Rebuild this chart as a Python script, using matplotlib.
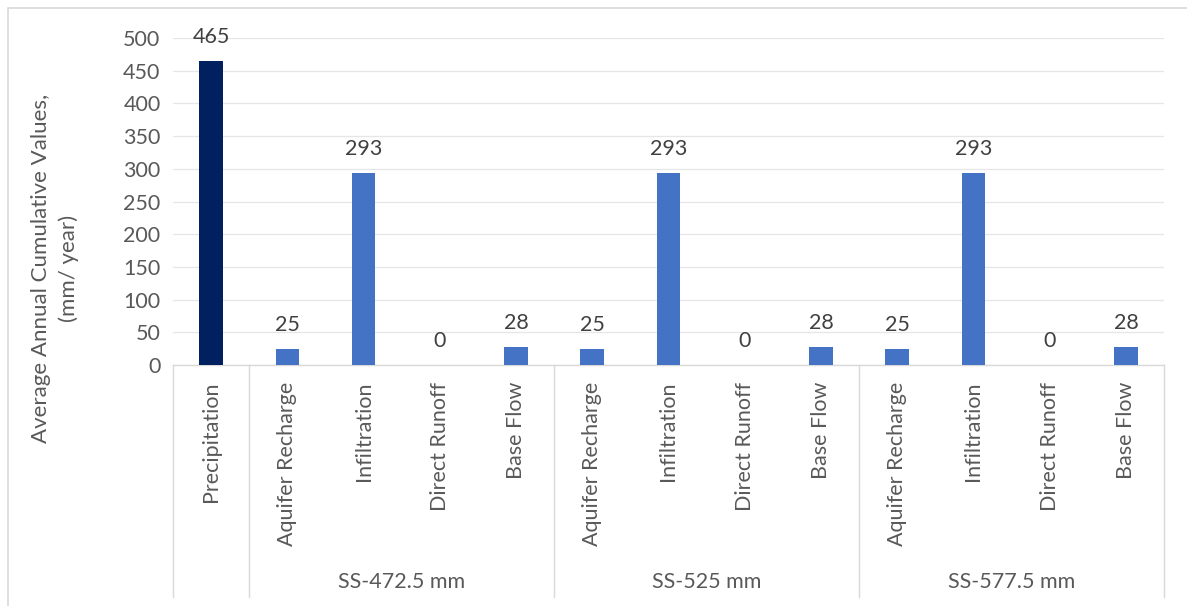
import numpy as np
import matplotlib.pyplot as plt
from matplotlib.patches import Rectangle
from matplotlib.transforms import blended_transform_factory

plt.rcParams["font.family"] = ["Lato", "DejaVu Sans"]

# data
categories = ["Precipitation",
              "Aquifer Recharge", "Infiltration", "Direct Runoff", "Base Flow",
              "Aquifer Recharge", "Infiltration", "Direct Runoff", "Base Flow",
              "Aquifer Recharge", "Infiltration", "Direct Runoff", "Base Flow"]
values = [465, 25, 293, 0, 28, 25, 293, 0, 28, 25, 293, 0, 28]
groups = ["SS-472.5 mm", "SS-525 mm", "SS-577.5 mm"]
group_sizes = [4, 4, 4]
bar_colors = ["#002060"] + ["#4472C4"] * 12

FS = 15.5
W, H = 1187, 606
fig = plt.figure(figsize=(W / 100, H / 100), dpi=100)
ax = fig.add_axes([173 / W, 1 - 365 / H, (1164 - 173) / W, (365 - 38) / H])

x = np.arange(len(categories))
ax.bar(x, values, width=0.31, color=bar_colors, zorder=3)
for xi, v in zip(x, values):
    ax.annotate(str(v), (xi, v), xytext=(0, 10), textcoords="offset points",
                ha="center", va="bottom", fontsize=FS, color="#404040")

ax.set_xlim(-0.5, len(categories) - 0.5)
ax.set_ylim(0, 500)
ax.set_yticks(np.arange(0, 501, 50))
ax.grid(axis="y", color="#E6E6E6", linewidth=0.9, zorder=0)
ax.set_axisbelow(True)
for s in ["top", "right", "left"]:
    ax.spines[s].set_visible(False)
ax.spines["bottom"].set_color("#D9D9D9")
ax.spines["bottom"].set_linewidth(1.0)

ax.set_xticks(x)
ax.set_xticklabels(categories, rotation=90, va="top", ha="center")
ax.tick_params(axis="x", length=0, pad=12, labelsize=FS, labelcolor="#595959")
ax.tick_params(axis="y", length=0, pad=9, labelsize=FS, labelcolor="#595959")

# multi-level category axis: separators and group labels
trans = blended_transform_factory(ax.transData, ax.transAxes)
ybot = (365 - 597) / (365 - 38)
bounds = [-0.5, 0.5]
for n in group_sizes:
    bounds.append(bounds[-1] + n)
for b in bounds:
    ax.plot([b, b], [0, ybot], transform=trans, color="#D9D9D9",
            linewidth=1.0, clip_on=False)
ylab = (365 - 582) / (365 - 38)
for i, g in enumerate(groups):
    cx = (bounds[i + 1] + bounds[i + 2]) / 2
    ax.text(cx, ylab, g, transform=trans, ha="center", va="center",
            fontsize=FS, color="#595959")

fig.text(55 / W, 1 - 268 / H, "Average Annual Cumulative Values,\n(mm/ year)",
         rotation=90, ha="center", va="center", fontsize=16,
         color="#595959", multialignment="center", linespacing=1.45)

# chart frame
fig.add_artist(Rectangle((8 / W, -0.1), 1.2, 1 - 8 / H + 0.1,
                         transform=fig.transFigure, fill=False,
                         edgecolor="#D9D9D9", linewidth=1.2))

fig.savefig("out.png", dpi=100)
